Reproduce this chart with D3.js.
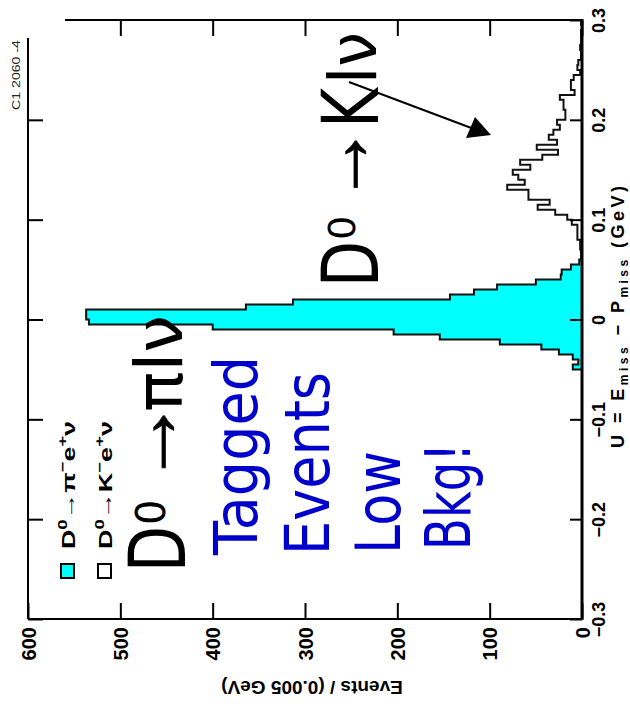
<!DOCTYPE html>
<html><head><meta charset="utf-8">
<script src="https://cdn.jsdelivr.net/npm/d3@7"></script>
<style>body{margin:0;background:#fff;} svg{display:block}</style>
</head><body>
<svg id="c" width="630" height="715"></svg>
<script>
// ---------------- data ----------------
const binWidth = 0.005;
// D0 -> pi- e+ nu (filled histogram): lower edge of each U bin (GeV) and counts
const piU = [-0.050,-0.045,-0.040,-0.035,-0.030,-0.025,-0.020,-0.015,-0.010,-0.005,
             0.000,0.005,0.010,0.015,0.020,0.025,0.030,0.035,0.040,0.045,0.050,0.055];
const piN = [10,4,10,25,44,89,154,204,400,534,
             537,537,364,313,143,117,92,50,23,22,12,3];
// D0 -> K- e+ nu (open histogram)
const kU = [0.060,0.065,0.070,0.075,0.080,0.085,0.090,0.095,0.100,0.105,
            0.110,0.115,0.120,0.125,0.130,0.135,0.140,0.145,0.150,0.155,
            0.160,0.165,0.170,0.175,0.180,0.185,0.190,0.195,0.200,0.205,
            0.210,0.215,0.220,0.225,0.230,0.235,0.240,0.245,0.250,0.255,
            0.260,0.265,0.270,0.275,0.280,0.285,0.290,0.295];
const kN = [1,1,2,2,5,5,5,11,16,29,
            48,35,58,58,81,62,69,75,56,67,
            43,26,49,27,36,31,24,27,18,18,
            20,20,24,8,12,12,9,2,5,4,
            1,1,2,1,1,1,0,1];
const countTicks = [0,100,200,300,400,500,600];
const countMinor = [50,150,250,350,450,550];
const uTicks = [-0.3,-0.2,-0.1,0,0.1,0.2,0.3];
const uMinor = [-0.28,-0.26,-0.24,-0.22,-0.18,-0.16,-0.14,-0.12,-0.08,-0.06,-0.04,-0.02,
                0.02,0.04,0.06,0.08,0.12,0.14,0.16,0.18,0.22,0.24,0.26,0.28];

// ---------------- chart ----------------
const svg = d3.select("#c");
const x = d3.scaleLinear().domain([0,600]).range([582,28]);   // counts, increase to the left
const y = d3.scaleLinear().domain([-0.3,0.3]).range([619,20]); // U, increases upward

function histPoints(us, ns){
  const pts = [[x(0), y(us[0])]];
  us.forEach((u,i)=>{ pts.push([x(ns[i]), y(u)]); pts.push([x(ns[i]), y(u+binWidth)]); });
  pts.push([x(0), y(us[us.length-1]+binWidth)]);
  return pts;
}
const line = d3.line();
svg.append("path").attr("d", line(histPoints(kU,kN))+"Z")
  .attr("fill","#fff").attr("stroke","#111").attr("stroke-width",2).attr("stroke-linejoin","miter");
svg.append("path").attr("d", line(histPoints(piU,piN))+"Z")
  .attr("fill","#00ffff").attr("stroke","#111").attr("stroke-width",2).attr("stroke-linejoin","miter");

const tickFont = "Liberation Sans, Arial, sans-serif";
// bottom axis (counts)
const gB = svg.append("g").attr("transform","translate(0,619)");
gB.call(d3.axisBottom(x).tickValues(countMinor).tickSizeInner(-10).tickSizeOuter(0).tickFormat(""));
gB.call(d3.axisBottom(x).tickValues(countTicks).tickSizeInner(-16).tickSizeOuter(0));
gB.selectAll(".domain").remove();
gB.selectAll("line").attr("stroke","#000").attr("stroke-width",2);
gB.selectAll("text").attr("x",0).attr("y",0).attr("dy","0.36em")
  .attr("transform","translate(0,8) rotate(-90)").attr("text-anchor","end")
  .attr("font-size",20).attr("font-weight","bold").attr("font-family",tickFont).attr("fill","#000");
// top mirror axis
const gT = svg.append("g").attr("transform","translate(0,20)");
gT.call(d3.axisTop(x).tickValues(countMinor.filter(v=>v<=560)).tickSizeInner(-9).tickSizeOuter(0).tickFormat(""));
gT.call(d3.axisTop(x).tickValues(countTicks.filter(v=>v<=560)).tickSizeInner(-16).tickSizeOuter(0).tickFormat(""));
gT.selectAll(".domain").remove();
gT.selectAll("line").attr("stroke","#000").attr("stroke-width",2);
// right axis (U)
const gR = svg.append("g").attr("transform","translate(582,0)");
gR.call(d3.axisRight(y).tickValues(uMinor).tickSizeInner(-7).tickSizeOuter(0).tickFormat(""));
gR.call(d3.axisRight(y).tickValues(uTicks).tickSizeInner(-12).tickSizeOuter(0).tickFormat(d3.format("~g")));
gR.selectAll(".domain").remove();
gR.selectAll("line").attr("stroke","#000").attr("stroke-width",2);
gR.selectAll("text").attr("x",0).attr("y",0).attr("dy","0.36em")
  .attr("transform","translate(17,0) rotate(-90)").attr("text-anchor","middle")
  .attr("font-size",18).attr("font-weight","bold").attr("font-family",tickFont).attr("fill","#000");
// left mirror axis
const gL = svg.append("g").attr("transform","translate(28,0)");
gL.call(d3.axisLeft(y).tickValues(uMinor.filter(v=>v<=0.28)).tickSizeInner(-9).tickSizeOuter(0).tickFormat(""));
gL.call(d3.axisLeft(y).tickValues(uTicks.filter(v=>v<=0.28)).tickSizeInner(-15).tickSizeOuter(0).tickFormat(""));
gL.selectAll(".domain").remove();
gL.selectAll("line").attr("stroke","#000").attr("stroke-width",2);

// frame
const fr = svg.append("g").attr("stroke","#000").attr("fill","none");
fr.append("line").attr("x1",x(0)).attr("x2",x(0)).attr("y1",y(0.3)-1).attr("y2",y(-0.3)+1).attr("stroke-width",3);
fr.append("line").attr("x1",x(600)).attr("x2",x(0)).attr("y1",y(-0.3)).attr("y2",y(-0.3)).attr("stroke-width",2);
fr.append("line").attr("x1",x(600)).attr("x2",x(600)).attr("y1",y(0.282)).attr("y2",y(-0.3)).attr("stroke-width",2);
fr.append("line").attr("x1",x(560)).attr("x2",x(0)).attr("y1",y(0.3)).attr("y2",y(0.3)).attr("stroke-width",2);

// axis titles
svg.append("text").attr("transform","translate(312,681) rotate(180)")
  .attr("text-anchor","middle").attr("font-size",19).attr("font-weight","bold").attr("font-family",tickFont)
  .text("Events / (0.005 GeV)");
const ut = svg.append("text").attr("transform","translate(624,317) rotate(-90)")
  .attr("text-anchor","middle").attr("font-size",18).attr("font-weight","bold").attr("font-family",tickFont)
  .attr("textLength",262).attr("lengthAdjust","spacing");
ut.append("tspan").text("U = E");
ut.append("tspan").attr("font-size",12).attr("dy",4).text("miss");
ut.append("tspan").attr("dy",-4).text(" \u2212 P");
ut.append("tspan").attr("font-size",12).attr("dy",4).text("miss");
ut.append("tspan").attr("dy",-4).text("  (GeV)");

// small ID text
svg.append("text").attr("transform","translate(20,110) rotate(-90)")
  .attr("font-size",10).attr("font-family",tickFont).attr("fill","#222")
  .attr("textLength",70).attr("lengthAdjust","spacingAndGlyphs").text("C1 2060 -4");

// legend
const legendLabels = [["D","0","\u2192\u03c0","\u2212","e","+","\u03bd"],["D","0","\u2192K","\u2212","e","+","\u03bd"]];
const legendFill = ["#00ffff","#ffffff"];
const legX = [61, 98];
legendLabels.forEach((lab,i)=>{
  svg.append("rect").attr("x",legX[i]).attr("y",564).attr("width",13).attr("height",14)
    .attr("fill",legendFill[i]).attr("stroke","#000").attr("stroke-width",2);
  const t = svg.append("text").attr("transform",`translate(${legX[i]+14},549) rotate(-90)`)
    .attr("font-size",19).attr("font-weight","bold").attr("font-family",tickFont)
    .attr("textLength",128).attr("lengthAdjust","spacingAndGlyphs");
  lab.forEach((s,j)=>{
    const sup = (j===1||j===3||j===5);
    t.append("tspan").attr("font-size",sup?13:19).attr("dy", sup?-8:(j>0?8:0)).text(s);
  });
});

// annotations
const annFont = "DejaVu Sans, sans-serif";
function vtext(str, bx, sy, fs, len, fill, family){
  const t = svg.append("text").attr("transform",`translate(${bx},${sy}) rotate(-90)`)
    .attr("font-size",fs).attr("font-family",family||annFont).attr("fill",fill||"#000").text(str);
  if (len) t.attr("textLength",len).attr("lengthAdjust","spacingAndGlyphs");
  return t;
}
const arrowFont = "Noto Sans, sans-serif";
// D0 -> pi l nu
vtext("D",185,572,78,46);
vtext("0",165,525,40);
vtext("\u2192",178,486,86,88,"#000",arrowFont).attr("stroke","#000").attr("stroke-width",0.6);
vtext("\u03c0l\u03bd",182,412,66,97);
// D0 -> K l nu
vtext("D",378,287,78,46);
vtext("0",355,240,38);
vtext("\u2192",370,204,86,79,"#000",arrowFont).attr("stroke","#000").attr("stroke-width",0.6);
vtext("K",378,128,78,40);
vtext("l\u03bd",376,84,66,52);
// blue text
const blue = "#0000cc";
vtext("Tagged",257,555,61,199,blue);
vtext("Events",329,555,63,183,blue);
vtext("Low",400,554,63,103,blue);
vtext("Bkg!",470,550,63,107,blue);
// pointer arrow
svg.append("line").attr("x1",349).attr("y1",82).attr("x2",474).attr("y2",129)
  .attr("stroke","#000").attr("stroke-width",2);
svg.append("path").attr("d","M466,138L475,117L491,135Z").attr("fill","#000");
</script>
</body></html>
